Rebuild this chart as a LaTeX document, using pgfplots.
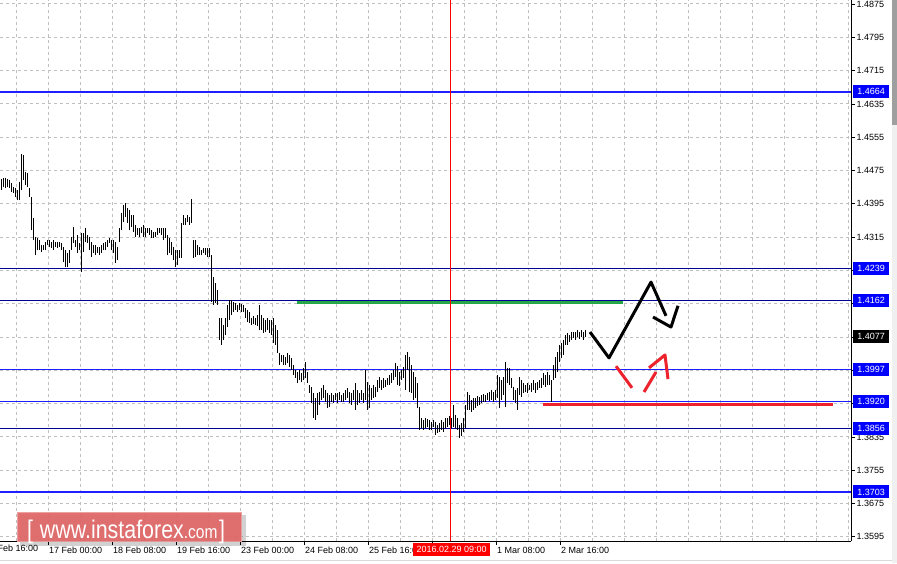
\documentclass[border=0pt]{standalone}
\usepackage{pgfplots}
\pgfplotsset{compat=1.18}
\usepackage{pgfplotstable}
\usepackage{fontspec}
\setmainfont{Liberation Sans}
\definecolor{gridc}{RGB}{192,192,192}
\definecolor{levelA}{RGB}{30,30,255}
\definecolor{levelB}{RGB}{0,0,150}
\definecolor{grn}{RGB}{38,166,72}
\definecolor{arred}{RGB}{236,34,44}
\definecolor{wmred}{RGB}{224,104,104}
\definecolor{boxblue}{RGB}{0,0,255}

\pgfplotstableread{
x low high
1 1.4428 1.4455
3 1.4435 1.4457
5 1.4433 1.4457
7 1.4435 1.4455
9 1.4433 1.4452
11 1.4423 1.4445
13 1.4421 1.4435
15 1.4411 1.4433
17 1.4404 1.4428
19 1.4404 1.4447
21 1.4428 1.4515
23 1.4452 1.4512
25 1.4440 1.4472
27 1.4435 1.4469
29 1.4411 1.4433
31 1.4332 1.4411
33 1.4308 1.4361
35 1.4272 1.4315
37 1.4284 1.4313
39 1.4284 1.4308
41 1.4279 1.4296
43 1.4284 1.4296
45 1.4284 1.4303
47 1.4296 1.4308
49 1.4291 1.4308
51 1.4289 1.4303
53 1.4284 1.4308
55 1.4291 1.4303
57 1.4289 1.4303
59 1.4291 1.4303
61 1.4284 1.4301
63 1.4255 1.4291
65 1.4243 1.4284
67 1.4243 1.4277
69 1.4253 1.4284
71 1.4284 1.4315
73 1.4301 1.4339
75 1.4291 1.4308
77 1.4277 1.4320
79 1.4284 1.4301
81 1.4231 1.4325
83 1.4279 1.4325
85 1.4303 1.4337
87 1.4301 1.4320
89 1.4284 1.4315
91 1.4267 1.4303
93 1.4277 1.4296
95 1.4272 1.4296
97 1.4277 1.4291
99 1.4272 1.4291
101 1.4277 1.4296
103 1.4284 1.4301
105 1.4284 1.4303
107 1.4291 1.4308
109 1.4301 1.4313
111 1.4284 1.4308
113 1.4277 1.4308
115 1.4253 1.4303
117 1.4260 1.4291
119 1.4303 1.4337
121 1.4332 1.4373
123 1.4351 1.4392
125 1.4363 1.4397
127 1.4349 1.4385
129 1.4332 1.4380
131 1.4339 1.4368
133 1.4327 1.4368
135 1.4315 1.4344
137 1.4320 1.4337
139 1.4315 1.4337
141 1.4325 1.4339
143 1.4315 1.4344
145 1.4315 1.4337
147 1.4325 1.4337
149 1.4320 1.4337
151 1.4313 1.4332
153 1.4313 1.4327
155 1.4315 1.4327
157 1.4320 1.4337
159 1.4325 1.4337
161 1.4320 1.4337
163 1.4308 1.4337
165 1.4313 1.4337
167 1.4272 1.4320
169 1.4277 1.4313
171 1.4272 1.4303
173 1.4260 1.4291
175 1.4243 1.4284
177 1.4248 1.4284
179 1.4265 1.4284
181 1.4265 1.4349
183 1.4344 1.4368
185 1.4344 1.4361
187 1.4351 1.4368
189 1.4344 1.4363
191 1.4349 1.4407
193 1.4265 1.4308
195 1.4267 1.4308
197 1.4272 1.4296
199 1.4272 1.4291
201 1.4272 1.4284
203 1.4277 1.4289
205 1.4272 1.4289
207 1.4267 1.4289
209 1.4267 1.4289
211 1.4159 1.4272
213 1.4152 1.4219
215 1.4157 1.4205
217 1.4152 1.4188
219 1.4068 1.4121
221 1.4056 1.4121
223 1.4068 1.4104
225 1.4080 1.4121
227 1.4099 1.4152
229 1.4116 1.4164
231 1.4128 1.4164
233 1.4135 1.4159
235 1.4140 1.4157
237 1.4135 1.4152
239 1.4140 1.4157
241 1.4135 1.4154
243 1.4135 1.4152
245 1.4121 1.4145
247 1.4111 1.4140
249 1.4109 1.4135
251 1.4104 1.4121
253 1.4106 1.4126
255 1.4104 1.4121
257 1.4102 1.4128
259 1.4092 1.4152
261 1.4092 1.4128
263 1.4085 1.4121
265 1.4087 1.4116
267 1.4092 1.4121
269 1.4085 1.4116
271 1.4080 1.4116
273 1.4061 1.4121
275 1.4056 1.4104
277 1.4037 1.4092
279 1.4008 1.4037
281 1.4015 1.4032
283 1.4008 1.4032
285 1.4008 1.4027
287 1.4013 1.4037
289 1.4003 1.4032
291 1.3996 1.4025
293 1.3984 1.4008
295 1.3977 1.3996
297 1.3965 1.3991
299 1.3972 1.3996
301 1.3967 1.3989
303 1.3972 1.4001
305 1.3977 1.4015
307 1.3965 1.3991
309 1.3941 1.3960
311 1.3917 1.3955
313 1.3881 1.3941
315 1.3876 1.3929
317 1.3888 1.3941
319 1.3912 1.3943
321 1.3924 1.3953
323 1.3929 1.3960
325 1.3919 1.3948
327 1.3905 1.3941
329 1.3907 1.3936
331 1.3919 1.3941
333 1.3917 1.3936
335 1.3924 1.3941
337 1.3917 1.3941
339 1.3924 1.3943
341 1.3919 1.3936
343 1.3919 1.3941
345 1.3924 1.3948
347 1.3929 1.3953
349 1.3917 1.3943
351 1.3912 1.3941
353 1.3924 1.3948
355 1.3900 1.3965
357 1.3912 1.3948
359 1.3917 1.3941
361 1.3924 1.3948
363 1.3917 1.3941
365 1.3924 1.3996
367 1.3900 1.3967
369 1.3905 1.3960
371 1.3924 1.3953
373 1.3929 1.3960
375 1.3931 1.3955
377 1.3943 1.3972
379 1.3953 1.3979
381 1.3948 1.3972
383 1.3953 1.3977
385 1.3955 1.3972
387 1.3960 1.3977
389 1.3960 1.3984
391 1.3965 1.3989
393 1.3972 1.3996
395 1.3979 1.4013
397 1.3960 1.4005
399 1.3957 1.3991
401 1.3972 1.3996
403 1.3977 1.4003
405 1.3948 1.4032
407 1.3996 1.4039
409 1.3943 1.4027
411 1.3941 1.4008
413 1.3924 1.3991
415 1.3929 1.3979
417 1.3905 1.3965
419 1.3852 1.3907
421 1.3857 1.3881
423 1.3852 1.3876
425 1.3857 1.3881
427 1.3859 1.3878
429 1.3852 1.3876
431 1.3852 1.3871
433 1.3859 1.3876
435 1.3840 1.3871
437 1.3845 1.3864
439 1.3847 1.3869
441 1.3852 1.3876
443 1.3847 1.3871
445 1.3857 1.3881
447 1.3859 1.3881
449 1.3864 1.3885
451 1.3857 1.3881
453 1.3859 1.3912
455 1.3857 1.3888
457 1.3852 1.3881
459 1.3832 1.3864
461 1.3837 1.3869
463 1.3847 1.3881
465 1.3857 1.3912
467 1.3900 1.3943
469 1.3900 1.3936
471 1.3895 1.3924
473 1.3900 1.3929
475 1.3905 1.3929
477 1.3909 1.3933
479 1.3912 1.3931
481 1.3917 1.3936
483 1.3919 1.3938
485 1.3919 1.3936
487 1.3924 1.3941
489 1.3921 1.3943
491 1.3924 1.3948
493 1.3919 1.3943
495 1.3924 1.3948
497 1.3929 1.3984
499 1.3905 1.3979
501 1.3924 1.3972
503 1.3936 1.3979
505 1.3907 1.4015
507 1.3965 1.4001
509 1.3960 1.4001
511 1.3953 1.3977
513 1.3924 1.3955
515 1.3917 1.3948
517 1.3900 1.3953
519 1.3936 1.3979
521 1.3931 1.3972
523 1.3941 1.3965
525 1.3943 1.3960
527 1.3941 1.3965
529 1.3948 1.3960
531 1.3943 1.3965
533 1.3948 1.3972
535 1.3941 1.3965
537 1.3948 1.3967
539 1.3953 1.3972
541 1.3953 1.3977
543 1.3960 1.3989
545 1.3955 1.3984
547 1.3960 1.3991
549 1.3960 1.3984
551 1.3919 1.3972
553 1.3972 1.4008
555 1.3977 1.4027
557 1.3991 1.4039
559 1.4015 1.4056
561 1.4025 1.4061
563 1.4032 1.4068
565 1.4056 1.4080
567 1.4056 1.4085
569 1.4063 1.4080
571 1.4068 1.4087
573 1.4073 1.4087
575 1.4068 1.4087
577 1.4075 1.4092
579 1.4070 1.4087
581 1.4075 1.4092
583 1.4068 1.4087
585 1.4075 1.4092
}\bars

\newcommand{\lbl}{\fontsize{9}{10}\selectfont}

\begin{document}
\begin{tikzpicture}[x=1pt,y=1pt]
\useasboundingbox (0,-22) rectangle (897,541);
\begin{scope}
\clip (0,-22) rectangle (897,541);
\begin{axis}[
  at={(0,0)}, anchor=south west,
  scale only axis, width=851pt, height=541pt,
  xmin=0, xmax=851, ymin=1.35851, ymax=1.48846,
  axis x line*=bottom, axis y line*=right,
  axis line style={-, black, line width=1pt},
  tick align=outside, major tick length=4pt, minor tick length=0pt,
  tick style={black, line width=0.8pt},
  xtick={48,112,176,240,304,368,432,496,560},
  xticklabels={17 Feb 00:00,18 Feb 08:00,19 Feb 16:00,23 Feb 00:00,24 Feb 08:00,25 Feb 16:00,,1 Mar 08:00,2 Mar 16:00},
  minor xtick={16,80,144,208,272,336,400,464,528,592,624,656,688,720,752,784,816,848},
  xmajorgrids, xminorgrids, ymajorgrids,
  grid style={gridc, line width=1pt, dash pattern=on 3pt off 3pt},
  minor grid style={gridc, line width=1pt, dash pattern=on 3pt off 3pt},
  ytick={1.3595,1.3675,1.3755,1.3835,1.3915,1.3995,1.4075,1.4155,1.4235,1.4315,1.4395,1.4475,1.4555,1.4635,1.4715,1.4795,1.4875},
  yticklabel style={/pgf/number format/fixed, /pgf/number format/fixed zerofill, /pgf/number format/precision=4, /pgf/number format/assume math mode=true, anchor=west, xshift=1.5pt},
  ticklabel style={font=\lbl, inner sep=0pt},
  xticklabel style={anchor=north west, xshift=1pt, yshift=-2pt},
]
\addplot[grn, line width=3.5pt] coordinates {(297,1.4158) (623,1.4158)};
\addplot[arred, line width=3.5pt] coordinates {(543,1.3913) (833,1.3913)};
\addplot[color=levelA, line width=1.4pt] coordinates {(0,1.4664) (851,1.4664)};
\addplot[color=levelB, line width=1.1pt] coordinates {(0,1.4239) (851,1.4239)};
\addplot[color=levelB, line width=1.1pt] coordinates {(0,1.4162) (851,1.4162)};
\addplot[color=levelA, line width=1.4pt] coordinates {(0,1.3997) (851,1.3997)};
\addplot[color=levelA, line width=1.4pt] coordinates {(0,1.3920) (851,1.3920)};
\addplot[color=levelB, line width=1.1pt] coordinates {(0,1.3856) (851,1.3856)};
\addplot[color=levelA, line width=1.4pt] coordinates {(0,1.3703) (851,1.3703)};
\addplot[red, line width=1pt] coordinates {(450,1.35851) (450,1.48846)};
\addplot[draw=none, mark=none, error bars/.cd, y dir=plus, y explicit,
  error mark=none, error bar style={draw=black, line width=0.85pt, line cap=butt}]
  table[x=x, y=low, y error expr=\thisrow{high}-\thisrow{low}] {\bars};
\addplot[black, line width=3pt, line join=round] coordinates {(590,1.4087) (609,1.4025) (651,1.4207) (666,1.4126)};
\addplot[black, line width=3pt, line join=round] coordinates {(653,1.4123) (671,1.4099) (678,1.4150)};
\addplot[arred, line width=3pt] coordinates {(616,1.4005) (632,1.3953)};
\addplot[arred, line width=3pt] coordinates {(644,1.3943) (656,1.3991)};
\addplot[arred, line width=3pt, line join=round] coordinates {(649,1.4001) (665,1.4032) (668,1.3974)};
\coordinate (q4664) at (axis cs:851,1.4664);
\coordinate (q4239) at (axis cs:851,1.4239);
\coordinate (q4162) at (axis cs:851,1.4162);
\coordinate (q4077) at (axis cs:851,1.4077);
\coordinate (q3997) at (axis cs:851,1.3997);
\coordinate (q3920) at (axis cs:851,1.3920);
\coordinate (q3856) at (axis cs:851,1.3856);
\coordinate (q3703) at (axis cs:851,1.3703);
\end{axis}
\tikzset{pbox/.style={anchor=west, inner sep=0pt, minimum width=36pt, minimum height=13pt, text=white, font=\lbl}}
\node[pbox, fill=boxblue] at ([xshift=2pt]q4664) {1.4664};
\node[pbox, fill=boxblue] at ([xshift=2pt]q4239) {1.4239};
\node[pbox, fill=boxblue] at ([xshift=2pt]q4162) {1.4162};
\node[pbox, fill=black] at ([xshift=2pt]q4077) {1.4077};
\node[pbox, fill=boxblue] at ([xshift=2pt]q3997) {1.3997};
\node[pbox, fill=boxblue] at ([xshift=2pt]q3920) {1.3920};
\node[pbox, fill=boxblue] at ([xshift=2pt]q3856) {1.3856};
\node[pbox, fill=boxblue] at ([xshift=2pt]q3703) {1.3703};
\node[anchor=north west, inner sep=0pt, font=\lbl] at (-15,-4) {15 Feb 16:00};
\node[anchor=north west, inner sep=0pt, minimum width=77pt, minimum height=13pt, fill=red, text=white, font=\lbl] at (413,-2) {2016.02.29 09:00};
\fill[gray!75] (892,416) rectangle (897,541);
\fill[gray!12] (892,-22) rectangle (897,416);
\draw[gray!30, line width=1pt] (0,-19.5) -- (892,-19.5);
\fill[black, opacity=0.18] (20,-5) rectangle (246,26);
\fill[wmred, opacity=0.95] (17,-1) rectangle (242,29);
\draw[white, opacity=0.35, line width=0.8pt] (17.5,-0.5) rectangle (241.5,28.5);
\node[anchor=base west, inner sep=0pt, text=white, xscale=0.84] at (27,3)
  {\fontsize{25.5}{26}\selectfont[\hspace{8pt}www.instaforex{\fontsize{18.5}{19}\selectfont.com}\hspace{2pt}]};
\end{scope}
\end{tikzpicture}
\end{document}
